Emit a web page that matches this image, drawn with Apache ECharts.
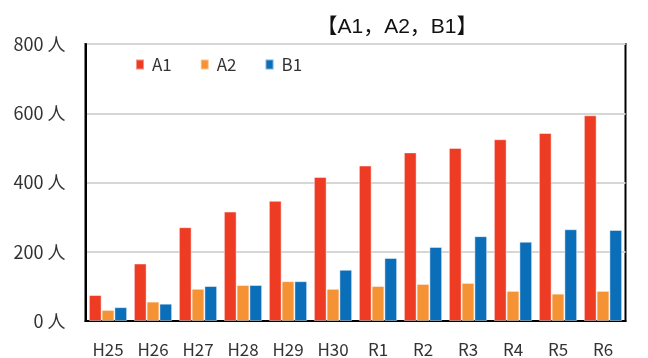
<!DOCTYPE html>
<html>
<head>
<meta charset="utf-8">
<script src="https://cdn.jsdelivr.net/npm/echarts@6/dist/echarts.min.js"></script>
<style>
  html, body { margin: 0; padding: 0; background: #fff; }
  #chart { width: 648px; height: 358px; }
</style>
</head>
<body>
<div id="chart"></div>
<script>
// Year labels (Heisei / Reiwa) and counts.
const years = ["H25", "H26", "H27", "H28", "H29", "H30", "R1", "R2", "R3", "R4", "R5", "R6"];
const a1 = [75, 166, 271, 316, 347, 416, 449, 487, 500, 525, 543, 594];
const a2 = [32, 56, 93, 104, 115, 93, 101, 107, 110, 87, 79, 87];
const b1 = [40, 50, 101, 104, 115, 148, 182, 214, 245, 229, 265, 263];
const seriesNames = ["A1", "A2", "B1"];
const colors = ["#EE3B24", "#F59233", "#0B6EB9"];

const FONT = "'Noto Sans CJK JP', 'Noto Sans', sans-serif";
// title latin glyphs are a plain grotesque; brackets/commas fall back to CJK
const TITLE_FONT = "'Liberation Sans', 'Noto Sans CJK JP', sans-serif";

const chart = echarts.init(document.getElementById("chart"));

chart.setOption({
  animation: false,
  color: colors,
  textStyle: { fontFamily: FONT },
  title: {
    text: "【A1，A2，B1】",
    left: 392,
    textAlign: "center",
    top: 12,
    textStyle: { fontFamily: TITLE_FONT, fontSize: 21, fontWeight: "normal", color: "#111" },
  },
  legend: {
    left: 135,
    top: 56,
    padding: 0,
    itemWidth: 8,
    itemHeight: 10,
    itemGap: 28,
    icon: "rect",
    textStyle: { fontFamily: FONT, fontSize: 17, color: "#333", padding: [0, 0, 0, 3] },
    data: seriesNames,
  },
  grid: {
    left: 85.5,
    right: 22.5,
    top: 44,
    bottom: 31.5,
    show: true,
    borderColor: "#000",
    borderWidth: 2,
  },
  xAxis: {
    type: "category",
    data: years,
    axisLine: { lineStyle: { color: "#000", width: 2 } },
    axisTick: { inside: true, length: 4, lineStyle: { color: "#000", width: 2 } },
    axisLabel: { color: "#333", fontSize: 17, margin: 20, fontFamily: FONT },
  },
  yAxis: {
    type: "value",
    min: 0,
    max: 800,
    interval: 200,
    axisLine: { show: true, lineStyle: { color: "#000", width: 2 } },
    axisTick: { show: false },
    axisLabel: { formatter: "{value} 人", color: "#333", fontSize: 18, margin: 20, fontFamily: FONT },
    splitLine: { lineStyle: { color: "#d6d6d6", width: 2 } },
  },
  series: [a1, a2, b1].map((vals, i) => ({
    name: seriesNames[i],
    type: "bar",
    data: vals,
    barGap: "0%",
    barCategoryGap: "15%",
    itemStyle: { borderColor: "rgba(255,255,255,0.45)", borderWidth: 1 },
  })),
});
</script>
</body>
</html>
